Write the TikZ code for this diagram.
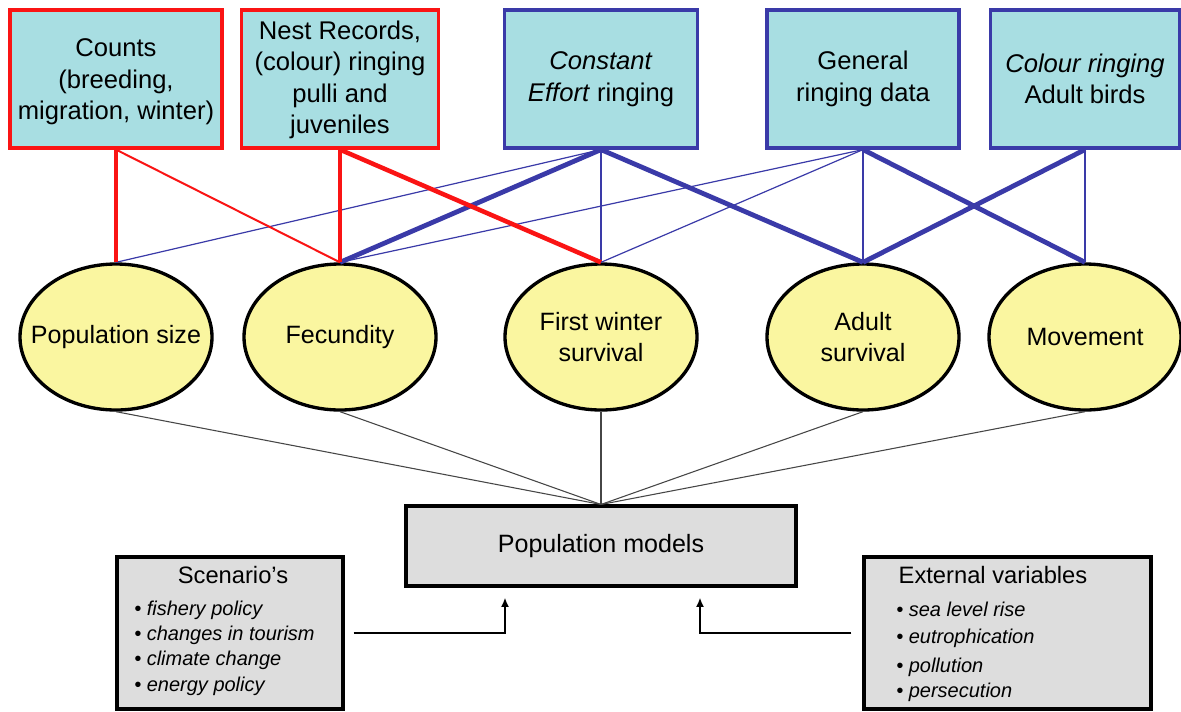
\documentclass[tikz,border=0pt]{standalone}
\usepackage{fontspec}
\setmainfont{Liberation Sans}
\usetikzlibrary{shapes.geometric,arrows.meta,calc}
\definecolor{cyanfill}{RGB}{168,222,226}
\definecolor{redc}{RGB}{250,20,20}
\definecolor{bluec}{RGB}{58,58,168}
\definecolor{yellowc}{RGB}{250,246,160}
\definecolor{grayc}{RGB}{221,221,221}
\definecolor{linec}{RGB}{70,70,70}
\tikzset{
  topbox/.style={rectangle, fill=cyanfill, line width=2.4pt, align=center, inner sep=0pt,
    minimum height=103.5pt, font=\fontsize{19.2}{23.6}\selectfont},
  redbox/.style={topbox, draw=redc},
  bluebox/.style={topbox, draw=bluec},
  boxtext/.style={align=center, inner sep=0pt, font=\fontsize{19.2}{23.6}\selectfont},
  ell/.style={ellipse, draw=black, line width=2.5pt, fill=yellowc, inner sep=0pt,
    minimum width=144pt, minimum height=109.5pt},
  elltext/.style={align=center, inner sep=0pt, font=\fontsize{18.8}{23.25}\selectfont},
  redthick/.style={draw=redc, line width=3.4pt},
  redthin/.style={draw=redc, line width=1.5pt},
  bluethick/.style={draw=bluec, line width=3.6pt},
  bluethin/.style={draw=bluec, line width=0.9pt},
  lowline/.style={draw=linec, line width=0.8pt},
  greybox/.style={rectangle, fill=grayc, draw=black, line width=2.3pt, inner sep=0pt},
  boxtitle/.style={inner sep=0pt, font=\fontsize{17.8}{20}\selectfont},
  item/.style={inner sep=0pt, anchor=west, font=\fontsize{15}{18}\selectfont\itshape},
  arr/.style={draw=black, line width=1.5pt, -{Latex[length=7pt,width=6pt]}}
}
\begin{document}
\begin{tikzpicture}[x=0.75pt,y=-0.75pt]
\useasboundingbox (0,0) rectangle (1181,711);
\fill[white] (0,0) rectangle (1181,711);

% top boxes
\node[redbox, minimum width=159pt] (counts) at (116,79) {};
\node[boxtext] (countst) at (116,82) {Counts\\(breeding,\\migration, winter)};
\node[redbox, minimum width=147.75pt] (nest) at (340,79) {};
\node[boxtext] (nestt) at (340,80) {Nest Records,\\(colour) ringing\\pulli and\\juveniles};
\node[bluebox, minimum width=144.75pt] (cef) at (601,79) {\textit{Constant}\\\textit{Effort} ringing};
\node[bluebox, minimum width=144pt] (gen) at (863,79) {General\\ringing data};
\node[bluebox, minimum width=141.75pt] (col) at (1085,79) {\textit{Colour ringing}\\Adult birds};

% ellipses
\node[ell] (ps) at (116,337) {};
\node[ell] (fec) at (340,337) {};
\node[ell] (fws) at (601,337) {};
\node[ell] (as) at (863,337) {};
\node[ell] (mov) at (1085,337) {};
\node[elltext] (pst) at (ps) {Population size};
\node[elltext] (fect) at (fec) {Fecundity};
\node[elltext] (fwst) at (fws) {First winter\\survival};
\node[elltext] (ast) at (as) {Adult\\survival};
\node[elltext] (movt) at (mov) {Movement};

% connectors top
\draw[bluethin] (cef.south) -- (ps.north);
\draw[bluethin] (gen.south) -- (fec.north);
\draw[bluethin] (gen.south) -- (fws.north);
\draw[bluethin] (gen.south) -- (as.north);
\draw[bluethin] (cef.south) -- (fws.north);
\draw[bluethin] (col.south) -- (mov.north);
\draw[bluethick] (cef.south) -- (fec.north);
\draw[bluethick] (cef.south) -- (as.north);
\draw[bluethick] (gen.south) -- (mov.north);
\draw[bluethick] (col.south) -- (as.north);
\draw[redthin] (counts.south) -- (fec.north);
\draw[redthick] (counts.south) -- (ps.north);
\draw[redthick] (nest.south) -- (fec.north);
\draw[redthick] (nest.south) -- (fws.north);

% population models
\node[greybox, minimum width=292.5pt, minimum height=60pt, font=\fontsize{18.8}{22}\selectfont] (pm) at (601,546) {Population models};
\foreach \e in {ps,fec,fws,as,mov}{\draw[lowline] (\e.south) -- (pm.north);}

% scenario box
\node[greybox, minimum width=169.5pt, minimum height=114pt] (sc) at (230,633) {};
\node[boxtitle] (sct) at (233,575) {Scenario's};
\node[item] (sc1) at (134,610) {\textbullet\ fishery policy};
\node[item] (sc2) at (134,635) {\textbullet\ changes in tourism};
\node[item] (sc3) at (134,660) {\textbullet\ climate change};
\node[item] (sc4) at (134,686) {\textbullet\ energy policy};

% external box
\node[greybox, minimum width=215.25pt, minimum height=114pt] (ext) at (1007.5,633) {};
\node[boxtitle] (extt) at (993,575) {External variables};
\node[item] (ex1) at (896,609) {\textbullet\ sea level rise};
\node[item] (ex2) at (896,638) {\textbullet\ eutrophication};
\node[item] (ex3) at (896,667) {\textbullet\ pollution};
\node[item] (ex4) at (896,692) {\textbullet\ persecution};

% arrows
\draw[arr] ([xshift=6.75pt]sc.east) -| ([xshift=-72pt,yshift=-7.5pt]pm.south);
\draw[arr] ([xshift=-8.25pt]ext.west) -| ([xshift=74.25pt,yshift=-7.5pt]pm.south);
\end{tikzpicture}
\end{document}
